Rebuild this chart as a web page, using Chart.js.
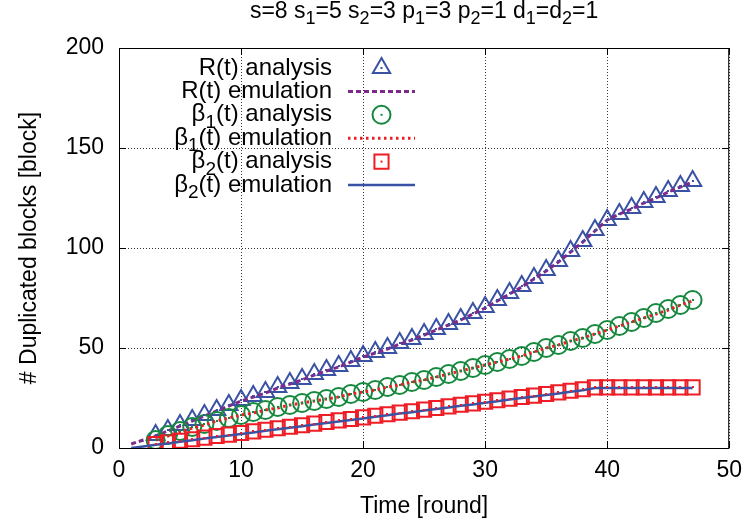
<!DOCTYPE html>
<html lang="en">
<head>
<meta charset="UTF-8">
<title>Duplicated blocks over time</title>
<style>
  body { margin: 0; background: #fff; }
  #chart { display: block; }
</style>
</head>
<body>
<canvas id="chart" width="751" height="524"></canvas>
<script src="https://cdn.jsdelivr.net/npm/chart.js"></script>
<script>
// rounds (x values)
const roundsEmulation = [1, 2, 3, 4, 5, 6, 7, 8, 9, 10, 11, 12, 13, 14, 15, 16, 17, 18, 19, 20, 21, 22, 23, 24,
  25, 26, 27, 28, 29, 30, 31, 32, 33, 34, 35, 36, 37, 38, 39, 40, 41, 42, 43, 44, 45, 46, 47];
const roundsAnalysis = [3, 4, 5, 6, 7, 8, 9, 10, 11, 12, 13, 14, 15, 16, 17, 18, 19, 20, 21, 22, 23, 24,
  25, 26, 27, 28, 29, 30, 31, 32, 33, 34, 35, 36, 37, 38, 39, 40, 41, 42, 43, 44, 45, 46, 47];

// R(t)
const rEmulation = [2, 4, 6, 8.5, 11, 13.5, 16, 18.5, 21, 23.5, 25.5, 27.5, 30, 32, 34, 36.5, 38.5, 40.5, 43, 45.5,
  47.5, 49.5, 52, 54, 56.5, 59, 61.5, 64, 67, 70, 73.5, 77, 80.5, 84.5, 88.5, 93, 98, 103, 108.5, 114,
  117, 119.5, 122.5, 125, 128, 130.5, 133];
const rAnalysis = [6.5, 9, 11.5, 14, 16.5, 19, 21.5, 24, 26, 28, 30.5, 32.5, 34.5, 37, 39, 41, 43.5, 46,
  48, 50, 52.5, 54.5, 57, 59.5, 62, 64.5, 67.5, 70.5, 74, 77.5, 81, 85, 89, 93.5, 98.5, 103.5, 109, 114,
  117, 120, 123, 125.5, 128.5, 131, 133.5];

// beta_1(t)
const b1Analysis = [4, 6.5, 8.5, 10.5, 12, 13.5, 15, 16.5, 18, 19, 20.5, 21.5, 22.5, 23.5, 24.5, 25.5, 27, 28,
  29, 30.5, 31.5, 33, 34, 35.5, 37, 38.5, 40, 41.5, 43, 44.5, 46, 48, 50, 51.5, 53.5, 55, 57, 59,
  61, 63, 65, 67.5, 69.5, 71.5, 74];
const b1Emulation = [4, 6, 8, 10, 11.5, 13.5, 15, 16.5, 17.5, 19, 20, 21.5, 22.5, 23.5, 24.5, 25.5, 27, 28,
  29, 30.5, 31.5, 33, 34, 35.5, 37, 38.5, 40, 41.5, 43, 44.5, 46, 48, 50, 51.5, 53.5, 55, 57, 59,
  61, 63, 65, 67, 69, 71.5, 73.5];

// beta_2(t)
const b2Analysis = [2, 2.8, 3.6, 4.4, 5.2, 6, 6.7, 7.5, 8.3, 9.1, 9.9, 10.6, 11.4, 12.2, 13, 13.8, 14.5, 15.3,
  16.1, 16.9, 17.7, 18.4, 19.2, 20, 20.8, 21.6, 22.3, 23.1, 23.9, 24.7, 25.5, 26.2, 27, 27.8, 28.6, 29.4,
  30.3, 30.3, 30.3, 30.3, 30.3, 30.3, 30.3, 30.3, 30.3];
const b2Emulation = [0, 0.8, 1.6, 2.3, 3.1, 3.9, 4.7, 5.5, 6.2, 7, 7.8, 8.6, 9.4, 10.1, 10.9, 11.7, 12.5, 13.3,
  14, 14.8, 15.6, 16.4, 17.2, 17.9, 18.7, 19.5, 20.3, 21.1, 21.8, 22.6, 23.4, 24.2, 25, 25.7, 26.5, 27.3,
  28.1, 28.9, 30, 30, 30, 30, 30, 30, 30, 30, 30];

const xTicks = [0, 10, 20, 30, 40, 50];
const yTicks = [0, 50, 100, 150, 200];

const FONT = '"Liberation Sans", Arial, Helvetica, sans-serif';
const BLUE = '#3a52a3';
const PURPLE = '#7d2a8a';
const GREEN = '#17893f';
const RED = '#ee1d25';

function pts(xs, ys) {
  return xs.map((x, i) => ({ x: x, y: ys[i] }));
}

// "β_1(t)" -> text with a one-character subscript after "_"
function richParts(str) {
  const parts = [];
  let buf = '';
  for (let i = 0; i < str.length; i++) {
    if (str[i] === '_' && i + 1 < str.length) {
      if (buf) parts.push({ t: buf, sub: false });
      buf = '';
      parts.push({ t: str[i + 1], sub: true });
      i++;
    } else {
      buf += str[i];
    }
  }
  if (buf) parts.push({ t: buf, sub: false });
  return parts;
}

function drawRich(ctx, str, x, y, size, align) {
  const parts = richParts(str);
  const main = size + 'px ' + FONT;
  const sub = Math.round(size * 0.8) + 'px ' + FONT;
  let w = 0;
  parts.forEach(p => {
    ctx.font = p.sub ? sub : main;
    p.w = ctx.measureText(p.t).width;
    w += p.w;
  });
  let cx = align === 'right' ? x - w : align === 'center' ? x - w / 2 : x;
  ctx.textAlign = 'left';
  ctx.textBaseline = 'middle';
  parts.forEach(p => {
    ctx.font = p.sub ? sub : main;
    ctx.fillText(p.t, cx, y + (p.sub ? size * 0.32 : 0));
    cx += p.w;
  });
}

function marker(ctx, style, x, y, r) {
  ctx.beginPath();
  if (style === 'triangle') {
    ctx.moveTo(x, y - r);
    ctx.lineTo(x + r * 0.866, y + r * 0.5);
    ctx.lineTo(x - r * 0.866, y + r * 0.5);
    ctx.closePath();
  } else if (style === 'circle') {
    ctx.arc(x, y, r, 0, Math.PI * 2);
  } else {
    const s = r * Math.SQRT1_2;
    ctx.rect(x - s, y - s, 2 * s, 2 * s);
  }
  ctx.stroke();
}

// title, frame, inward ticks, marker centre dots and the key
const gnuplotLook = {
  id: 'gnuplotLook',
  afterDatasetsDraw(chart) {
    const ctx = chart.ctx;
    ctx.save();
    chart.data.datasets.forEach((ds, i) => {
      if (ds.showLine) return;
      ctx.fillStyle = ds.borderColor;
      chart.getDatasetMeta(i).data.forEach(p => {
        ctx.fillRect(Math.round(p.x) - 1, Math.round(p.y) - 1, 2, 2);
      });
    });
    ctx.restore();
  },
  afterDraw(chart) {
    const ctx = chart.ctx;
    const a = chart.chartArea;
    const xs = chart.scales.x, ys = chart.scales.y;
    ctx.save();

    // frame
    ctx.strokeStyle = '#000';
    ctx.lineWidth = 1;
    ctx.strokeRect(a.left + 0.5, a.top + 0.5, a.right - a.left - 1, a.bottom - a.top);

    // tick marks pointing inward on all sides
    ctx.beginPath();
    xTicks.forEach(v => {
      const px = Math.round(xs.getPixelForValue(v)) + 0.5;
      ctx.moveTo(px, a.bottom); ctx.lineTo(px, a.bottom - 7);
      ctx.moveTo(px, a.top); ctx.lineTo(px, a.top + 7);
    });
    yTicks.forEach(v => {
      const py = Math.round(ys.getPixelForValue(v)) + 0.5;
      ctx.moveTo(a.left, py); ctx.lineTo(a.left + 7, py);
      ctx.moveTo(a.right, py); ctx.lineTo(a.right - 7, py);
    });
    ctx.stroke();

    // title
    ctx.fillStyle = '#000';
    drawRich(ctx, 's=8 s_1=5 s_2=3 p_1=3 p_2=1 d_1=d_2=1', (a.left + a.right) / 2, 12, 23, 'center');

    // key
    const textRight = a.left + 213;
    const sampleL = a.left + 229, sampleR = a.left + 296;
    chart.data.datasets.forEach((ds, i) => {
      const y = a.top + 20 + i * 23.4;
      ctx.fillStyle = '#000';
      drawRich(ctx, ds.label, textRight, y, 24, 'right');
      ctx.strokeStyle = ds.borderColor;
      if (ds.showLine) {
        ctx.lineWidth = ds.borderWidth;
        ctx.setLineDash(ds.borderDash || []);
        ctx.beginPath();
        ctx.moveTo(sampleL, y); ctx.lineTo(sampleR, y);
        ctx.stroke();
        ctx.setLineDash([]);
      } else {
        ctx.lineWidth = ds.pointBorderWidth;
        marker(ctx, ds.pointStyle, (sampleL + sampleR) / 2, y, ds.pointRadius);
        ctx.fillStyle = ds.borderColor;
        ctx.fillRect((sampleL + sampleR) / 2 - 1, y - 1, 2, 2);
      }
    });
    ctx.restore();
  }
};

const ctx = document.getElementById('chart').getContext('2d');
new Chart(ctx, {
  type: 'scatter',
  data: {
    datasets: [
      { label: 'R(t) analysis', data: pts(roundsAnalysis, rAnalysis), showLine: false,
        pointStyle: 'triangle', pointRadius: 10, pointBorderWidth: 2, borderColor: BLUE,
        backgroundColor: 'transparent', order: 6 },
      { label: 'R(t) emulation', data: pts(roundsEmulation, rEmulation), showLine: true,
        pointRadius: 0, borderWidth: 3, borderDash: [5, 3], borderColor: PURPLE, order: 5 },
      { label: 'β_1(t) analysis', data: pts(roundsAnalysis, b1Analysis), showLine: false,
        pointStyle: 'circle', pointRadius: 9, pointBorderWidth: 2, borderColor: GREEN,
        backgroundColor: 'transparent', order: 4 },
      { label: 'β_1(t) emulation', data: pts(roundsAnalysis, b1Emulation), showLine: true,
        pointRadius: 0, borderWidth: 3, borderDash: [2.5, 3.5], borderColor: RED, order: 3 },
      { label: 'β_2(t) analysis', data: pts(roundsAnalysis, b2Analysis), showLine: false,
        pointStyle: 'rect', pointRadius: 10, pointBorderWidth: 2, borderColor: RED,
        backgroundColor: 'transparent', order: 2 },
      { label: 'β_2(t) emulation', data: pts(roundsEmulation, b2Emulation), showLine: true,
        pointRadius: 0, borderWidth: 2.5, borderColor: BLUE, order: 1 }
    ]
  },
  options: {
    responsive: false,
    animation: false,
    devicePixelRatio: 1,
    layout: { padding: { top: 48, right: 17, left: 0, bottom: 0 } },
    elements: { line: { tension: 0, fill: false } },
    plugins: {
      legend: { display: false },
      tooltip: { enabled: false },
      title: { display: false }
    },
    scales: {
      x: {
        type: 'linear', min: 0, max: 50,
        afterFit: s => { s.height = 76; },
        afterBuildTicks: s => { s.ticks = xTicks.map(v => ({ value: v })); },
        ticks: { color: '#000', padding: 9, font: { family: FONT, size: 23 } },
        grid: { color: '#333', lineWidth: 1, drawTicks: false },
        border: { display: false, dash: [1, 2] },
        title: { display: true, text: 'Time [round]', color: '#000', padding: { top: 0, bottom: 4 },
                 font: { family: FONT, size: 23 } }
      },
      y: {
        type: 'linear', min: 0, max: 200,
        afterFit: s => { s.width = 119; },
        afterBuildTicks: s => { s.ticks = yTicks.map(v => ({ value: v })); },
        ticks: { color: '#000', padding: 15, font: { family: FONT, size: 23 } },
        grid: { color: '#333', lineWidth: 1, drawTicks: false },
        border: { display: false, dash: [1, 2] },
        title: { display: true, text: '# Duplicated blocks [block]', color: '#000',
                 padding: { top: 16, bottom: 0 }, font: { family: FONT, size: 23 } }
      }
    }
  },
  plugins: [gnuplotLook]
});
</script>
</body>
</html>
